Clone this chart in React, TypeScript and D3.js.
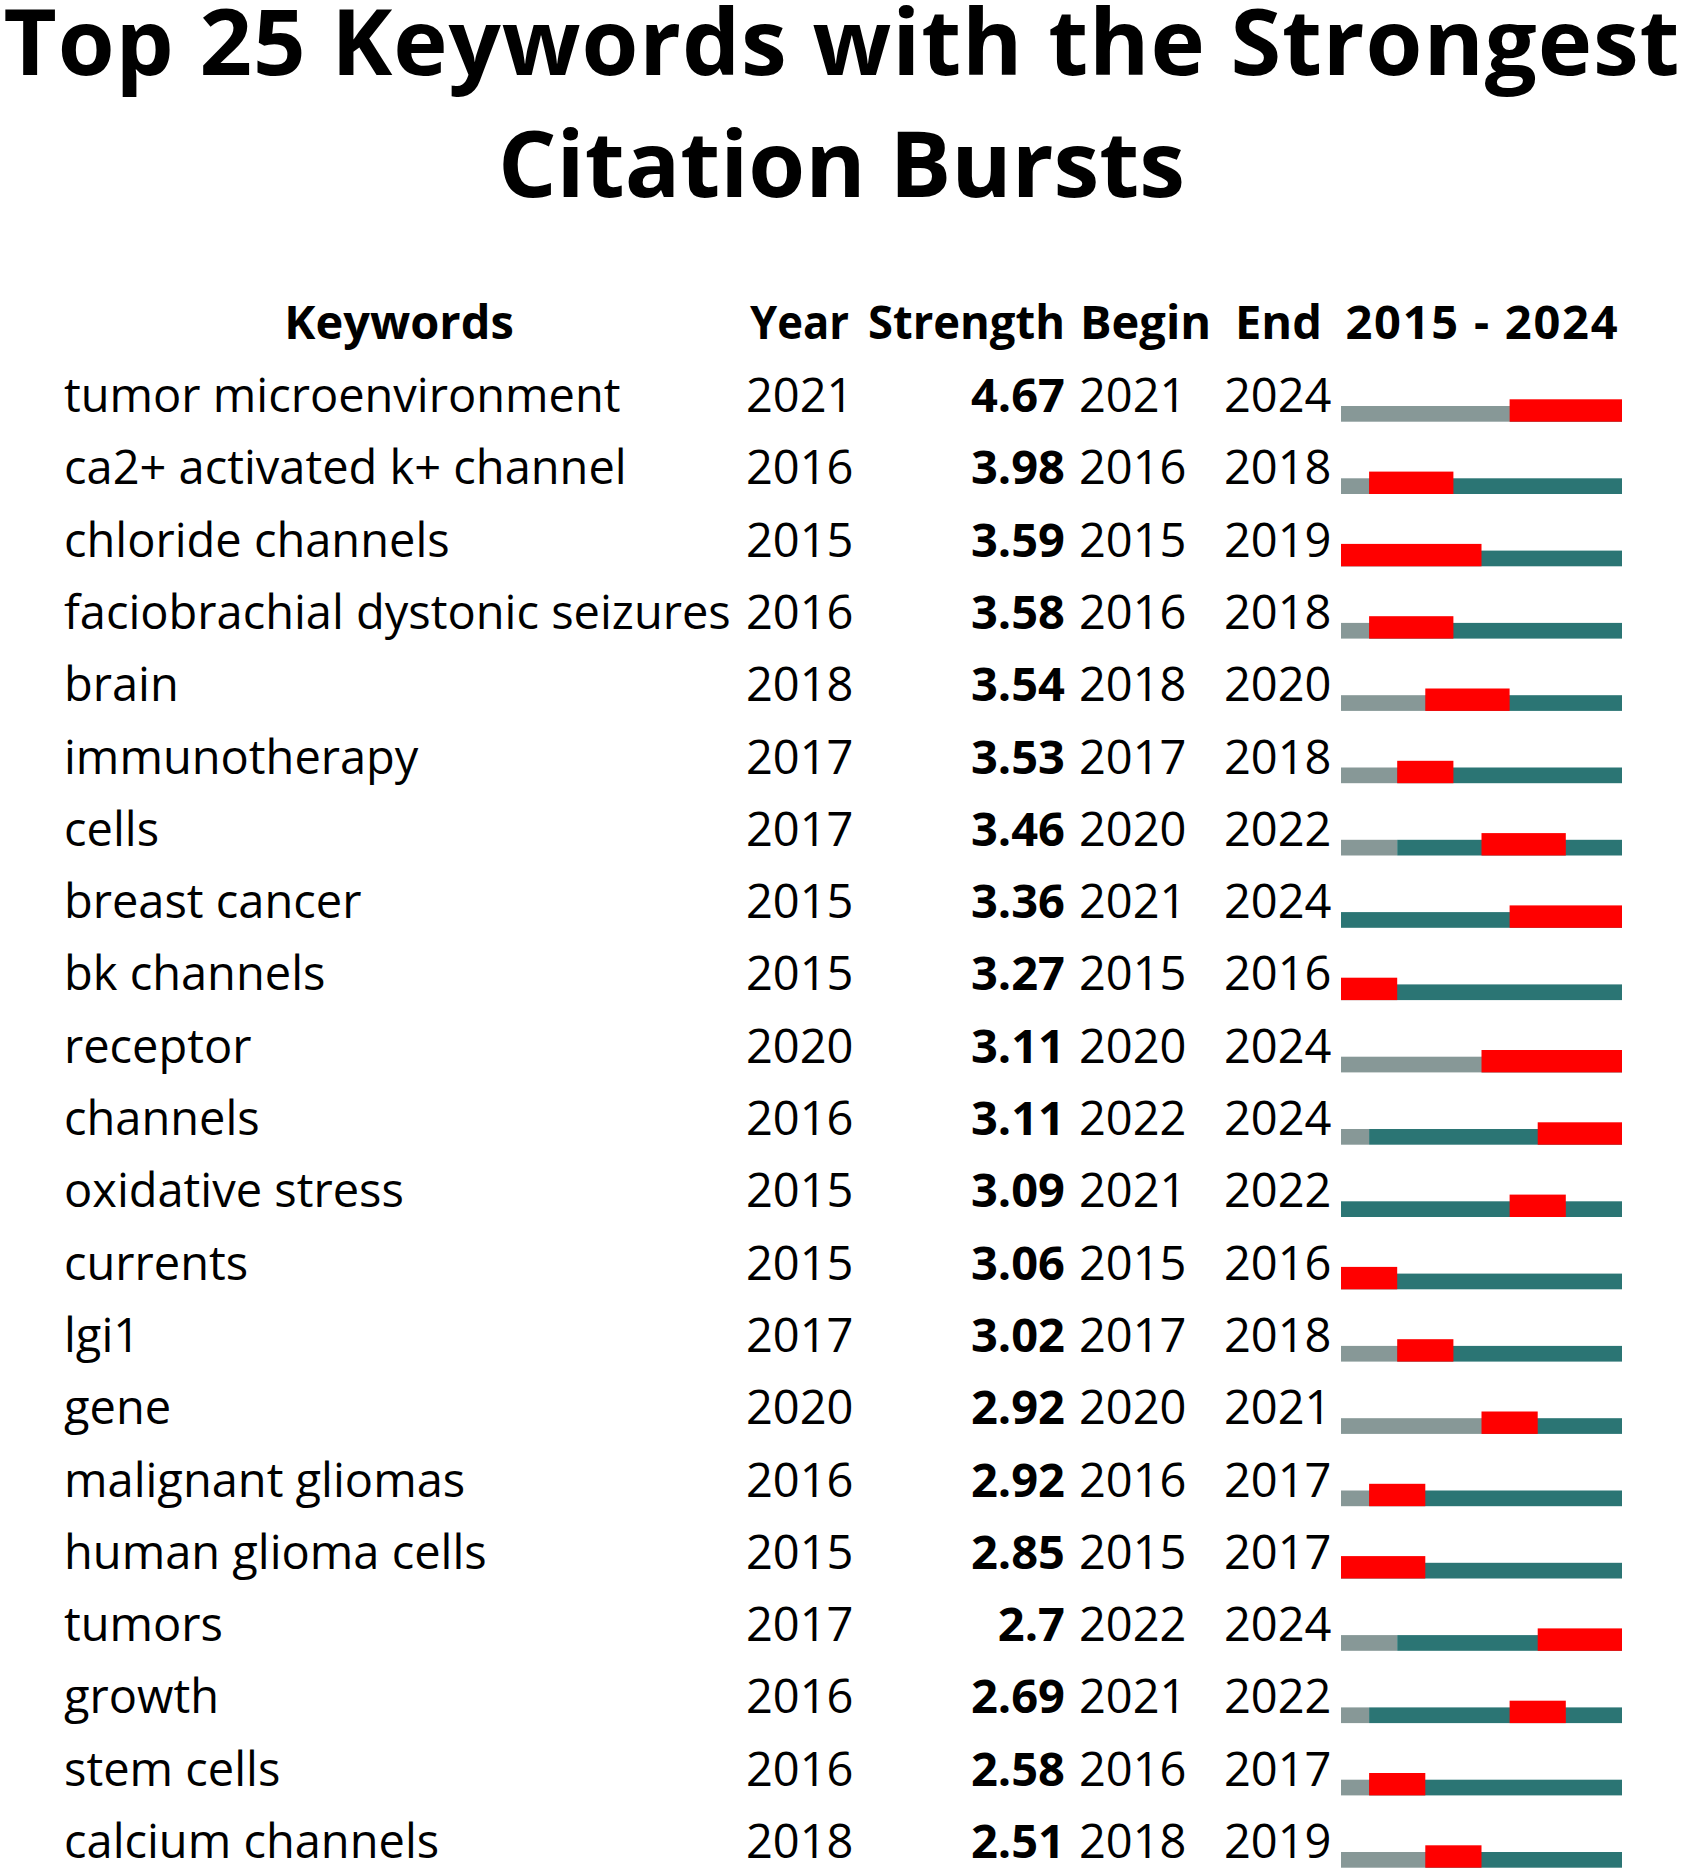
import React from "react";
import * as d3 from "d3";

// burst table data
const keywords = [
  "tumor microenvironment",
  "ca2+ activated k+ channel",
  "chloride channels",
  "faciobrachial dystonic seizures",
  "brain",
  "immunotherapy",
  "cells",
  "breast cancer",
  "bk channels",
  "receptor",
  "channels",
  "oxidative stress",
  "currents",
  "lgi1",
  "gene",
  "malignant gliomas",
  "human glioma cells",
  "tumors",
  "growth",
  "stem cells",
  "calcium channels",
];
const years = [2021, 2016, 2015, 2016, 2018, 2017, 2017, 2015, 2015, 2020, 2016, 2015, 2015, 2017, 2020, 2016, 2015, 2017, 2016, 2016, 2018];
const strengths = [4.67, 3.98, 3.59, 3.58, 3.54, 3.53, 3.46, 3.36, 3.27, 3.11, 3.11, 3.09, 3.06, 3.02, 2.92, 2.92, 2.85, 2.7, 2.69, 2.58, 2.51];
const begins = [2021, 2016, 2015, 2016, 2018, 2017, 2020, 2021, 2015, 2020, 2022, 2021, 2015, 2017, 2020, 2016, 2015, 2022, 2021, 2016, 2018];
const ends = [2024, 2018, 2019, 2018, 2020, 2018, 2022, 2024, 2016, 2024, 2024, 2022, 2016, 2018, 2021, 2017, 2017, 2024, 2022, 2017, 2019];
const headers = ["Keywords", "Year", "Strength", "Begin", "End"];
const startYear = 2015;
const endYear = 2024;

const width = 1683;
const height = 1869;
const font = "'Open Sans', 'Noto Sans', sans-serif";

const GRAY = "#879897";
const TEAL = "#2b7574";
const RED = "#ff0000";

export default function App() {
  // row index -> text baseline
  const yScale = d3.scaleLinear().domain([0, 1]).range([412, 484.3]);
  // year -> x position of the timeline bar
  const xScale = d3.scaleLinear().domain([startYear, endYear + 1]).range([1341, 1622]);

  const col = { kw: 64, year: 746, strengthRight: 1065, begin: 1079, end: 1224 };
  const fs = 47;
  const headerY = 339;

  return (
    <svg
      width={width}
      height={height}
      style={{ position: "absolute", left: 0, top: 0, display: "block", background: "#fff" }}
      fontFamily={font}
    >
      {/* title */}
      <text
        x={width / 2}
        y={75}
        textAnchor="middle"
        fontSize={92}
        fontWeight="bold"
        textLength={1676}
        lengthAdjust="spacing"
      >
        Top 25 Keywords with the Strongest
      </text>
      <text x={width / 2} y={197} textAnchor="middle" fontSize={92} fontWeight="bold">
        Citation Bursts
      </text>

      {/* header */}
      <g fontSize={fs} fontWeight="bold">
        <text x={399} y={headerY} textAnchor="middle">{headers[0]}</text>
        <text x={750} y={headerY} textLength={99} lengthAdjust="spacingAndGlyphs">{headers[1]}</text>
        <text x={col.strengthRight} y={headerY} textAnchor="end" textLength={197} lengthAdjust="spacingAndGlyphs">
          {headers[2]}
        </text>
        <text x={1080} y={headerY}>{headers[3]}</text>
        <text x={1235} y={headerY}>{headers[4]}</text>
        <text
          x={(xScale(startYear) + xScale(endYear + 1)) / 2}
          y={headerY}
          textAnchor="middle"
          textLength={272}
          lengthAdjust="spacing"
        >
          {`${startYear} - ${endYear}`}
        </text>
      </g>

      {/* rows */}
      {keywords.map((kw, i) => {
        const y = yScale(i);
        const x0 = xScale(startYear);
        const x1 = xScale(endYear + 1);
        return (
          <g key={kw}>
            <text x={col.kw} y={y} fontSize={fs}>{kw}</text>
            <text x={col.year} y={y} fontSize={fs}>{years[i]}</text>
            <text x={col.strengthRight} y={y} fontSize={fs} fontWeight="bold" textAnchor="end">
              {String(strengths[i])}
            </text>
            <text x={col.begin} y={y} fontSize={fs}>{begins[i]}</text>
            <text x={col.end} y={y} fontSize={fs}>{ends[i]}</text>

            {/* before first appearance */}
            <rect x={x0} y={y - 6} width={xScale(years[i]) - x0} height={15.7} fill={GRAY} />
            {/* after first appearance */}
            <rect x={xScale(years[i])} y={y - 6} width={x1 - xScale(years[i])} height={15.7} fill={TEAL} />
            {/* burst */}
            <rect
              x={xScale(begins[i])}
              y={y - 12.7}
              width={xScale(ends[i] + 1) - xScale(begins[i])}
              height={22.4}
              fill={RED}
            />
          </g>
        );
      })}
    </svg>
  );
}
